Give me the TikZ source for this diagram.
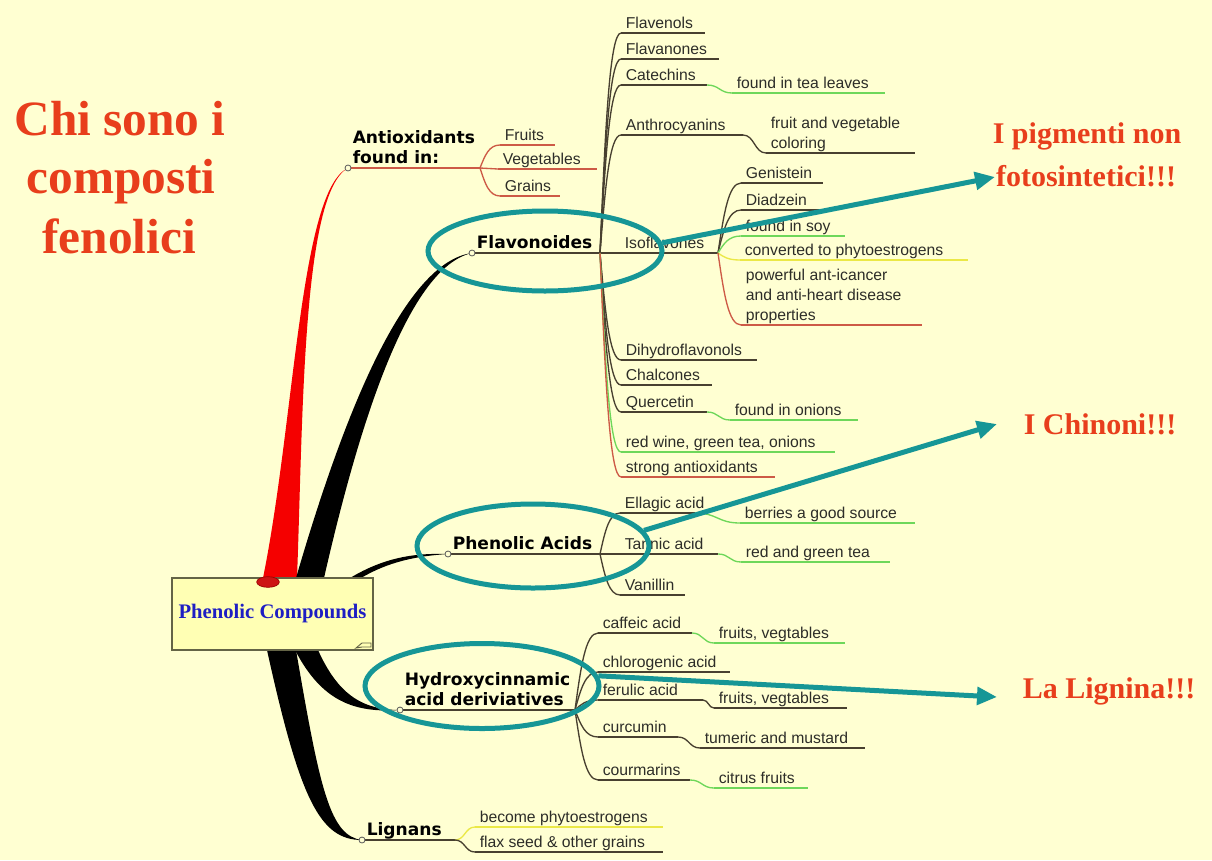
\documentclass[tikz,border=0pt]{standalone}
\usepackage{fontspec}
\setmainfont{Liberation Serif}
\newfontfamily\labfont{Liberation Sans}
\newfontfamily\bfam{DejaVu Sans}
\usetikzlibrary{arrows.meta,calc,shapes.geometric}
\definecolor{bgc}{RGB}{255,255,210}
\definecolor{darkl}{RGB}{72,64,48}
\definecolor{txtc}{RGB}{45,45,40}
\definecolor{greenl}{RGB}{110,215,90}
\definecolor{yellowl}{RGB}{235,232,70}
\definecolor{redl}{RGB}{205,90,70}
\definecolor{tealc}{RGB}{22,150,150}
\definecolor{titlec}{RGB}{232,62,28}
\definecolor{boxfill}{RGB}{255,255,180}
\definecolor{boxc}{RGB}{100,100,70}
\definecolor{bluec}{RGB}{30,30,195}
\definecolor{redbr}{RGB}{245,0,0}
\definecolor{blobc}{RGB}{205,20,20}
\newcommand\lstr{\rule[-2.25pt]{0pt}{2.25pt}}
\newcommand\labf{\labfont\fontsize{11.8}{15}\selectfont}
\newcommand\bigf{\bfam\bfseries\fontsize{12.8}{15.4}\selectfont}
\newcommand\leaf[7][leafnode]{%
  \node[#1] (#2) at (#3,#4) {#7\lstr};
  \coordinate (#2-e) at ($(#2.south west)+(#5,0)$);
  \draw[uline,#6] (#2.south west) -- (#2-e);}
\tikzset{
  leafnode/.style={anchor=south west,inner xsep=3.375pt,inner ysep=0.75pt,font=\labf,align=left,text=txtc},
  bignode/.style={leafnode,font=\bigf,text=black},
  uline/.style={line width=1pt},
  lk/.style={line width=1pt},
  mmcurve/.style={to path={let \p1=(\tikztostart),\p2=(\tikztotarget) in .. controls ({\x1+0.25*(\x2-\x1)},{\y1+0.55*(\y2-\y1)}) and ({\x1+0.45*(\x2-\x1)},\y2) .. (\tikztotarget)}},
  scurve/.style={to path={let \p1=(\tikztostart),\p2=(\tikztotarget) in .. controls ({0.5*\x1+0.5*\x2},\y1) and ({0.5*\x1+0.5*\x2},\y2) .. (\tikztotarget)}},
  circ/.style={draw=gray!70!black,fill=bgc,line width=0.6pt},
  tealell/.style={ellipse,draw=tealc,line width=3.75pt,inner sep=0pt},
  tarrow/.style={draw=tealc,line width=3.75pt,-{Triangle[length=15pt,width=13pt]}},
  ttl/.style={font=\bfseries\fontsize{37}{44}\selectfont,text=titlec,anchor=base,inner sep=0pt},
  rlab/.style={font=\bfseries\fontsize{22.5}{27}\selectfont,text=titlec,anchor=base,inner sep=0pt},
}
\begin{document}
\begin{tikzpicture}[x=0.75pt,y=-0.75pt]
\fill[bgc] (0,0) rectangle (1212,860);
\useasboundingbox (0,0) rectangle (1212,860);
% --- bold main nodes and leaves
\leaf[bignode]{anti}{348}{168}{132}{redl}{Antioxidants\\found in:}
\leaf{fruits}{500}{145}{55}{redl}{Fruits}
\leaf{veg}{498}{169}{99}{redl}{Vegetables}
\leaf{grains}{500}{196}{60}{redl}{Grains}
\leaf[bignode]{flav}{472}{253}{128}{darkl}{Flavonoides}
\leaf{flavenols}{621}{33}{84}{darkl}{Flavenols}
\leaf{flavanones}{621}{59}{98}{darkl}{Flavanones}
\leaf{catechins}{621}{85}{86}{darkl}{Catechins}
\leaf{catc}{732}{93}{153}{greenl}{found in tea leaves}
\leaf{anthro}{621}{135}{122}{darkl}{Anthrocyanins}
\leaf{anthroc}{766}{153}{149}{darkl}{fruit and vegetable\\coloring}
\leaf{iso}{620}{253}{98}{darkl}{Isoflavones}
\leaf{genistein}{741}{183}{82}{darkl}{Genistein}
\leaf{diadzein}{741}{210}{88}{darkl}{Diadzein}
\leaf{soy}{741}{236}{104}{greenl}{found in soy}
\leaf{convert}{740}{260}{228}{yellowl}{converted to phytoestrogens}
\leaf{powerful}{741}{325}{181}{redl}{powerful ant-icancer\\and anti-heart disease\\properties}
\leaf{dihydro}{621}{360}{136}{darkl}{Dihydroflavonols}
\leaf{chalcones}{621}{385}{91}{darkl}{Chalcones}
\leaf{quercetin}{621}{412}{86}{darkl}{Quercetin}
\leaf{querc}{730}{420}{128}{greenl}{found in onions}
\leaf{redwine}{621}{452}{214}{greenl}{red wine, green tea, onions}
\leaf{strong}{621}{477}{154}{redl}{strong antioxidants}
\leaf[bignode]{phen}{448}{554}{152}{darkl}{Phenolic Acids}
\leaf{ellagic}{620}{513}{75}{darkl}{Ellagic acid}
\leaf{ellc}{740}{523}{175}{greenl}{berries a good source}
\leaf{tannic}{620}{554}{98}{darkl}{Tannic acid}
\leaf{tannc}{741}{562}{149}{greenl}{red and green tea}
\leaf{vanillin}{620}{595}{65}{darkl}{Vanillin}
\leaf[bignode]{hyd}{400}{710}{175}{darkl}{Hydroxycinnamic\\acid deriviatives}
\leaf{caffeic}{598}{633}{94}{darkl}{caffeic acid}
\leaf{cafc}{714}{643}{131}{greenl}{fruits, vegtables}
\leaf{chloro}{598}{672}{132}{darkl}{chlorogenic acid}
\leaf{ferulic}{598}{700}{105}{darkl}{ferulic acid}
\leaf{ferc}{714}{708}{133}{darkl}{fruits, vegtables}
\leaf{curcumin}{598}{737}{80}{darkl}{curcumin}
\leaf{curc}{700}{748}{165}{darkl}{tumeric and mustard}
\leaf{courm}{598}{780}{92}{darkl}{courmarins}
\leaf{courc}{714}{788}{94}{greenl}{citrus fruits}
\leaf[bignode]{lig}{362}{840}{93}{darkl}{Lignans}
\leaf{become}{475}{827}{188}{yellowl}{become phytoestrogens}
\leaf{flax}{475}{852}{188}{darkl}{flax seed \& other grains}
% --- links
\draw[lk,redl] (anti-e) to[mmcurve] (fruits.south west);
\draw[lk,redl] (anti-e) -- (veg.south west);
\draw[lk,redl] (anti-e) to[mmcurve] (grains.south west);
\foreach \nm in {flavenols,flavanones,catechins,anthro,iso,dihydro,chalcones,quercetin}
  \draw[lk,darkl] (flav-e) to[mmcurve] (\nm.south west);
\draw[lk,greenl] (flav-e) to[mmcurve] (redwine.south west);
\draw[lk,redl] (flav-e) to[mmcurve] (strong.south west);
\draw[lk,greenl] (catechins-e) to[scurve] (catc.south west);
\draw[lk,darkl] (anthro-e) to[scurve] (anthroc.south west);
\draw[lk,greenl] (quercetin-e) to[scurve] (querc.south west);
\draw[lk,darkl] (iso-e) to[mmcurve] (genistein.south west);
\draw[lk,darkl] (iso-e) to[mmcurve] (diadzein.south west);
\draw[lk,greenl] (iso-e) to[mmcurve] (soy.south west);
\draw[lk,yellowl] (iso-e) to[mmcurve] (convert.south west);
\draw[lk,redl] (iso-e) to[mmcurve] (powerful.south west);
\draw[lk,darkl] (phen-e) to[mmcurve] (ellagic.south west);
\draw[lk,darkl] (phen-e) -- (tannic.south west);
\draw[lk,darkl] (phen-e) to[mmcurve] (vanillin.south west);
\draw[lk,greenl] (ellagic-e) to[scurve] (ellc.south west);
\draw[lk,greenl] (tannic-e) to[scurve] (tannc.south west);
\foreach \nm in {caffeic,chloro,ferulic,curcumin,courm}
  \draw[lk,darkl] (hyd-e) to[mmcurve] (\nm.south west);
\draw[lk,greenl] (caffeic-e) to[scurve] (cafc.south west);
\draw[lk,darkl] (ferulic-e) to[scurve] (ferc.south west);
\draw[lk,darkl] (curcumin-e) to[scurve] (curc.south west);
\draw[lk,greenl] (courm-e) to[scurve] (courc.south west);
\draw[lk,yellowl] (lig-e) to[scurve] (become.south west);
\draw[lk,darkl] (lig-e) to[scurve] (flax.south west);
% --- tapered main branches
\fill[redbr] (263,578) .. controls (295,420) and (300,190) .. (anti.south west)
  .. controls (302,193) and (303,420) .. (297,578) -- cycle;
\fill[black] (296,578) .. controls (345,410) and (405,262) .. (flav.south west)
  .. controls (409,267) and (360,420) .. (324,578) -- cycle;
\fill[black] (350,578) .. controls (385,557) and (415,553) .. (phen.south west)
  .. controls (416,556) and (388,562) .. (361,578) -- cycle;
\fill[black] (318,650) .. controls (337,692) and (360,710) .. (hyd.south west)
  .. controls (355,713) and (322,702) .. (295,650) -- cycle;
\fill[black] (267,650) .. controls (300,800) and (320,840) .. (lig.south west)
  .. controls (330,836) and (320,790) .. (296,650) -- cycle;
% --- central box
\node[draw=boxc,fill=boxfill,line width=1.1pt,minimum width=150.75pt,minimum height=54pt,inner sep=0pt,font=\bfseries\fontsize{15.5}{18}\selectfont,text=bluec] (pc) at (272.5,614) {Phenolic Compounds};
\node[ellipse,fill=blobc,draw=red!60!black,line width=0.5pt,minimum width=17pt,minimum height=8pt,inner sep=0pt] (blob) at (268,582) {};
\draw[boxc,line width=0.7pt] (356,648) -- (362,643) -- (371,643) -- (371,647) -- (362,647) -- cycle;
% --- small circles
\foreach \nm in {anti,flav,phen,hyd,lig}
  \draw[circ] (\nm.south west) circle[radius=3];
% --- title
\node[ttl] (t1) at (120,135) {Chi sono i};
\node[ttl] (t2) at (121,193) {composti};
\node[ttl] (t3) at (119,253) {fenolici};
% --- red labels
\node[rlab] (r1) at (1087,143) {I pigmenti non};
\node[rlab] (r2) at (1086,186) {fotosintetici!!!};
\node[rlab] (r3) at (1100,434) {I Chinoni!!!};
\node[rlab] (r4) at (1109,698) {La Lignina!!!};
% --- teal ellipses and arrows
\node[tealell,minimum width=175.5pt,minimum height=60pt] (e1) at (545,251) {};
\node[tealell,minimum width=174pt,minimum height=63pt] (e2) at (533,546) {};
\node[tealell,minimum width=175.5pt,minimum height=63.75pt] (e3) at (482,686) {};
\coordinate (tip1) at (995,177);
\coordinate (tip2) at (997,424);
\coordinate (tip3) at (997,697);
\draw[tarrow] (e1.4) -- (tip1);
\draw[tarrow] (e2.8) -- (tip2);
\draw[tarrow] (e3.5) -- (tip3);
\end{tikzpicture}
\end{document}
